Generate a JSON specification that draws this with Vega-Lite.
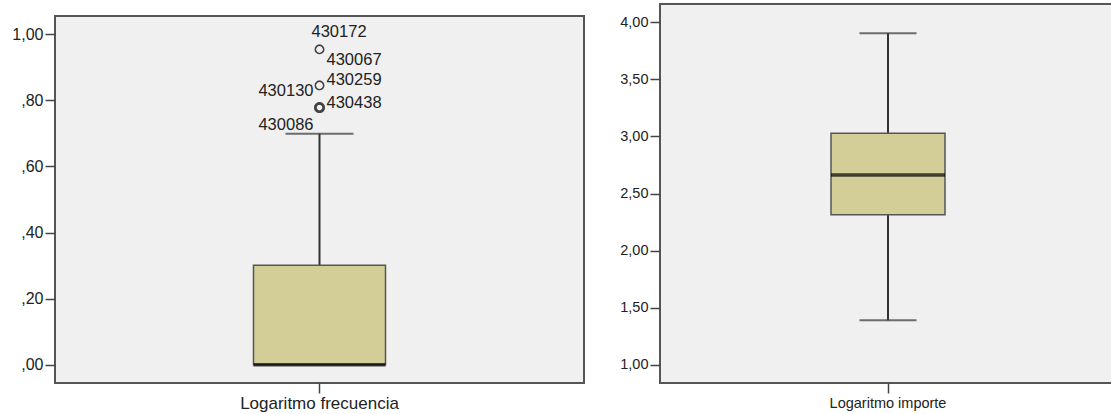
{
  "$schema": "https://vega.github.io/schema/vega-lite/v6.json",
  "padding": {"left": 10, "top": 3, "right": 0, "bottom": 0},
  "background": "white",
  "spacing": 33,
  "datasets": {
    "frecuencia": [{"var": "Logaritmo frecuencia", "lo": 0, "q1": 0, "med": 0, "q3": 0.301, "hi": 0.699}],
    "importe": [{"var": "Logaritmo importe", "lo": 1.39, "q1": 2.313, "med": 2.663, "q3": 3.028, "hi": 3.904}],
    "outliers": [
      {"var": "Logaritmo frecuencia", "id": "430172", "v": 0.954},
      {"var": "Logaritmo frecuencia", "id": "430067", "v": 0.954},
      {"var": "Logaritmo frecuencia", "id": "430259", "v": 0.845},
      {"var": "Logaritmo frecuencia", "id": "430130", "v": 0.845},
      {"var": "Logaritmo frecuencia", "id": "430438", "v": 0.778},
      {"var": "Logaritmo frecuencia", "id": "430086", "v": 0.778}
    ],
    "spacer": [{"var": "Logaritmo frecuencia"}]
  },
  "config": {
    "view": {"stroke": "#555555", "strokeWidth": 2, "fill": "#f0f0f0"},
    "axis": {"grid": false, "domain": false, "tickColor": "#444444", "tickWidth": 1.5, "tickSize": 10, "labelFont": "Liberation Sans", "labelColor": "#222222", "labelFontSize": 16, "labelPadding": 2},
    "text": {"font": "Liberation Sans", "fontSize": 16.5, "color": "#222222"}
  },
  "hconcat": [
    {
      "spacing": 10,
      "vconcat": [
        {
          "width": 529,
          "height": 1,
          "data": {"name": "spacer"},
          "view": {"stroke": null, "fill": null},
          "mark": {"type": "text", "text": "", "fontSize": 0, "baseline": "top"},
          "encoding": {}
        },
        {
          "width": 529,
          "height": 367,
          "encoding": {
            "x": {"field": "var", "type": "nominal", "title": null, "axis": {"labelAngle": 0, "labelFontSize": 17, "labelPadding": 2}}
          },
          "layer": [
            {
              "data": {"name": "frecuencia"},
              "layer": [
                {"mark": {"type": "rule", "color": "#333333", "strokeWidth": 2},
                 "encoding": {"y": {"field": "q3", "type": "quantitative", "scale": {"domain": [-0.055, 1.055], "nice": false, "zero": false}, "title": null,
                   "axis": {"values": [0, 0.2, 0.4, 0.6, 0.8, 1], "labelExpr": "datum.value < 1 ? ',' + slice(format(datum.value, '.2f'), 2) : replace(format(datum.value, '.2f'), '.', ',')"}},
                   "y2": {"field": "hi"}}},
                {"mark": {"type": "tick", "color": "#333333", "size": 68, "thickness": 2},
                 "encoding": {"y": {"field": "hi", "type": "quantitative"}}},
                {"mark": {"type": "bar", "size": 132, "fill": "#d3ce97", "stroke": "#555555", "strokeWidth": 1.5},
                 "encoding": {"y": {"field": "q1", "type": "quantitative"}, "y2": {"field": "q3"}}},
                {"mark": {"type": "tick", "color": "#000000", "size": 132, "thickness": 3.5},
                 "encoding": {"y": {"field": "med", "type": "quantitative"}}}
              ]
            },
            {
              "data": {"name": "outliers"},
              "layer": [
                {"mark": {"type": "point", "shape": "circle", "filled": false, "size": 70, "color": "#333333"},
                 "encoding": {"y": {"field": "v", "type": "quantitative"},
                   "strokeWidth": {"condition": {"test": "datum.v < 0.8", "value": 2.6}, "value": 1.4}}},
                {"transform": [{"filter": {"field": "id", "oneOf": ["430259", "430438"]}}],
                 "mark": {"type": "text", "align": "left", "baseline": "middle", "dx": 7, "dy": -5},
                 "encoding": {"y": {"field": "v", "type": "quantitative"}, "text": {"field": "id"}}},
                {"transform": [{"filter": {"field": "id", "equal": "430067"}}],
                 "mark": {"type": "text", "align": "left", "baseline": "middle", "dx": 7, "dy": 11},
                 "encoding": {"y": {"field": "v", "type": "quantitative"}, "text": {"field": "id"}}},
                {"transform": [{"filter": {"field": "id", "equal": "430172"}}],
                 "mark": {"type": "text", "align": "left", "baseline": "middle", "dx": -8, "dy": -17},
                 "encoding": {"y": {"field": "v", "type": "quantitative"}, "text": {"field": "id"}}},
                {"transform": [{"filter": {"field": "id", "equal": "430130"}}],
                 "mark": {"type": "text", "align": "right", "baseline": "middle", "dx": -6, "dy": 6},
                 "encoding": {"y": {"field": "v", "type": "quantitative"}, "text": {"field": "id"}}},
                {"transform": [{"filter": {"field": "id", "equal": "430086"}}],
                 "mark": {"type": "text", "align": "right", "baseline": "middle", "dx": -6, "dy": 17},
                 "encoding": {"y": {"field": "v", "type": "quantitative"}, "text": {"field": "id"}}}
              ]
            }
          ]
        }
      ]
    },
    {
      "width": 456,
      "height": 379,
      "data": {"name": "importe"},
      "encoding": {
        "x": {"field": "var", "type": "nominal", "title": null, "axis": {"labelAngle": 0, "labelFontSize": 14.5, "labelPadding": 3}}
      },
      "layer": [
        {"mark": {"type": "rule", "color": "#333333", "strokeWidth": 2},
         "encoding": {"y": {"field": "lo", "type": "quantitative", "scale": {"domain": [0.84, 4.16], "nice": false, "zero": false}, "title": null,
           "axis": {"values": [1, 1.5, 2, 2.5, 3, 3.5, 4], "labelFontSize": 14.5, "labelExpr": "replace(format(datum.value, '.2f'), '.', ',')"}},
           "y2": {"field": "hi"}}},
        {"mark": {"type": "tick", "color": "#333333", "size": 57, "thickness": 2},
         "encoding": {"y": {"field": "hi", "type": "quantitative"}}},
        {"mark": {"type": "tick", "color": "#333333", "size": 57, "thickness": 2},
         "encoding": {"y": {"field": "lo", "type": "quantitative"}}},
        {"mark": {"type": "bar", "size": 114, "fill": "#d3ce97", "stroke": "#555555", "strokeWidth": 1.5},
         "encoding": {"y": {"field": "q1", "type": "quantitative"}, "y2": {"field": "q3"}}},
        {"mark": {"type": "tick", "color": "#000000", "size": 114, "thickness": 3.5},
         "encoding": {"y": {"field": "med", "type": "quantitative"}}}
      ]
    }
  ]
}
